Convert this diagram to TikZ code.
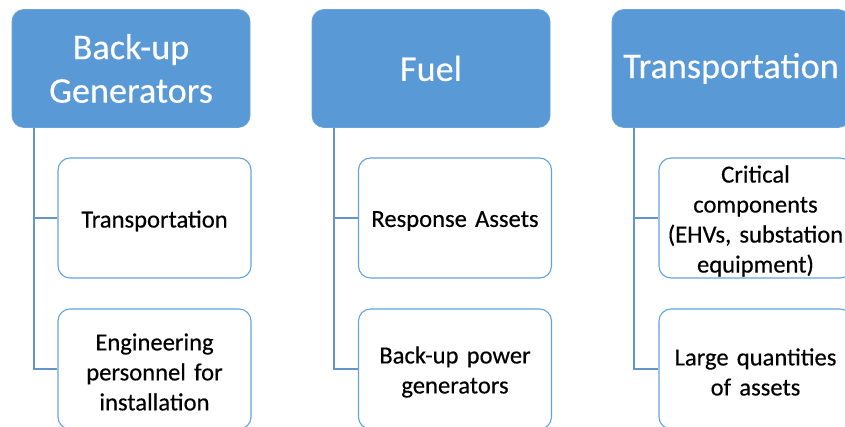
\documentclass[tikz,border=0pt]{standalone}
\usepackage{fontspec}
\setmainfont{Carlito}[WordSpace=0.6]
\newfontfamily\childfont{Carlito}[WordSpace=0.6, RawFeature={embolden=0.35}]
\newfontfamily\headfont{Carlito}[WordSpace=0.6, RawFeature={embolden=0.25}]
\definecolor{hdrblue}{HTML}{5899D6}
\definecolor{lineblue}{HTML}{6594C8}
\definecolor{boxblue}{HTML}{62A3E0}
\begin{document}
\begin{tikzpicture}[x=1pt,y=-1pt,
  header/.style={draw=hdrblue!90!white, line width=0.8pt, fill=hdrblue, rounded corners=12pt,
    minimum width=238pt, minimum height=118pt, inner sep=0pt, text=white,
    text width=232pt, align=center, font=\headfont\fontsize{36.2}{43.5}\selectfont},
  child/.style={draw=boxblue, line width=1.1pt, fill=white, rounded corners=12pt,
    minimum width=193pt, minimum height=120pt, inner sep=0pt},
  childtext/.style={inner sep=0pt, text=black, text width=188pt, align=center,
    font=\childfont\fontsize{24.6}{30}\selectfont},
  conn/.style={draw=lineblue, line width=2pt}]
\useasboundingbox (0,0) rectangle (845,427);
\begin{scope}
\clip (0,0) rectangle (845,427);
% headers
\node[header] (h1) at (131,68.5) {Back-up\\Generators};
\node[header] (h2) at (431,68.5) {Fuel};
\node[header] (h3) at (731,68.5) {Transportation};
% child boxes
\node[child] (c11) at (154.5,218) {};
\node[child] (c12) at (154.5,369) {};
\node[child] (c21) at (455,218) {};
\node[child] (c22) at (455,369) {};
\node[child] (c31) at (755.5,218) {};
\node[child] (c32) at (755.5,369) {};
% child texts
\node[childtext] (t11) at ([yshift=-3pt]c11.center) {Transportation};
\node[childtext] (t12) at ([yshift=-3pt]c12.center) {Engineering\\personnel for\\installation};
\node[childtext] (t21) at ([yshift=-3pt]c21.center) {Response Assets};
\node[childtext] (t22) at ([yshift=-3pt]c22.center) {Back-up power\\generators};
\node[childtext] (t31) at ([yshift=-3pt]c31.center) {Critical\\components\\(EHVs, substation\\equipment)};
\node[childtext] (t32) at ([yshift=-3pt]c32.center) {Large quantities\\of assets};
% connectors
\foreach \h/\a/\b in {h1/c11/c12, h2/c21/c22, h3/c31/c32}{
  \coordinate (\h top) at ([xshift=22pt]\h.south west);
  \draw[conn] (\h top) |- (\a.west);
  \draw[conn] (\h top) |- (\b.west);
}
\end{scope}
\end{tikzpicture}
\end{document}
